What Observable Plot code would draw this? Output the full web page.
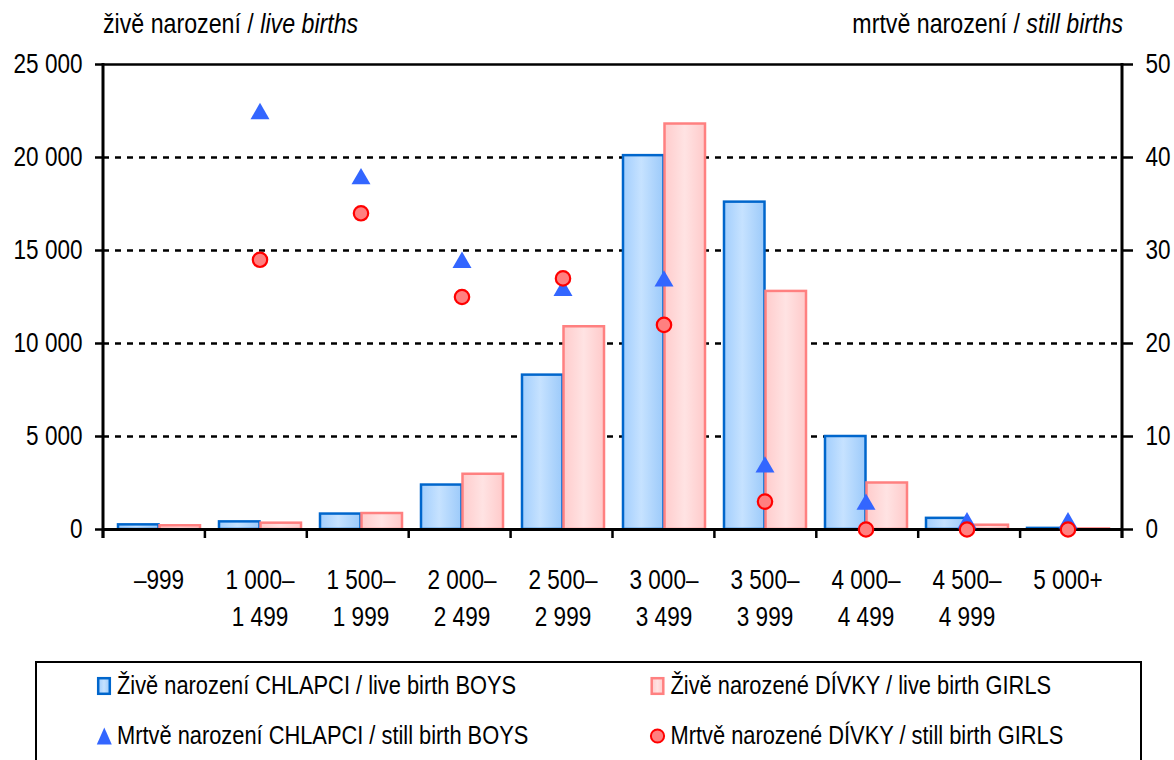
<!DOCTYPE html>
<html><head><meta charset="utf-8">
<script src="https://cdn.jsdelivr.net/npm/d3@7"></script>
<script src="https://cdn.jsdelivr.net/npm/@observablehq/plot@0.6"></script>
<style>
body{margin:0;background:#fff;}
#wrap{position:relative;width:1174px;height:760px;overflow:hidden;background:#fff;}
#chart{position:absolute;left:0;top:0;}
#legend{position:absolute;left:0;top:0;}
</style></head><body>
<div id="wrap"><div id="chart"></div><svg id="legend" width="1174" height="760"></svg></div>
<script>
// ---- data ----
const categories = ["–999","1 000–1 499","1 500–1 999","2 000–2 499","2 500–2 999","3 000–3 499","3 500–3 999","4 000–4 499","4 500–4 999","5 000+"];
const labelLine1 = ["–999","1 000–","1 500–","2 000–","2 500–","3 000–","3 500–","4 000–","4 500–","5 000+"];
const labelLine2 = ["","1 499","1 999","2 499","2 999","3 499","3 999","4 499","4 999",""];
const liveBoys   = [250, 410, 830, 2390, 8300, 20100, 17600, 5000, 600, 60];
const liveGirls  = [200, 340, 860, 2970, 10900, 21800, 12800, 2500, 230, 30];
const stillBoys  = [null, 45, 38, 29, 26, 27, 7, 3, 1, 1];
const stillGirls = [null, 29, 34, 25, 27, 22, 3, 0, 0, 0];
const leftTicks  = [0, 5000, 10000, 15000, 20000, 25000];
const rightTicks = [0, 10, 20, 30, 40, 50];
const gridTicks  = [5000, 10000, 15000, 20000];
const titleLeft  = ["živě narození / ", "live births"];
const titleRight = ["mrtvě narození / ", "still births"];
const legendLabels = ["Živě narození CHLAPCI / live birth BOYS","Živě narozené DÍVKY / live birth GIRLS","Mrtvě narození CHLAPCI / still birth BOYS","Mrtvě narozené DÍVKY / still birth GIRLS"];

// ---- fonts ----
function hasFont(name){
  const c=document.createElement("canvas").getContext("2d");
  const s="20 000 abcdefghijklmnop";
  c.font="40px monospace"; const a=c.measureText(s).width;
  c.font=`40px "${name}", monospace`; const b=c.measureText(s).width;
  return Math.abs(a-b)>0.5;
}
const narrow = hasFont("Liberation Sans Narrow") ? "Liberation Sans Narrow" : (hasFont("Arial Narrow") ? "Arial Narrow" : null);
const FONT = narrow ? `"${narrow}", sans-serif` : `"Liberation Sans", Arial, sans-serif`;
const FS = 27.5;
const SX = narrow ? 1 : 0.82;   // emulate a narrow face when none is installed
const LFONT = `"Liberation Sans", Arial, sans-serif`;

const K = leftTicks[leftTicks.length-1] / rightTicks[rightTicks.length-1];
const fmt = d3.formatLocale({thousands:" ", grouping:[3], decimal:",", currency:["",""]}).format(",");

const data = categories.map((c,i)=>({cat:c, label: labelLine2[i] ? labelLine1[i]+"\n"+labelLine2[i] : labelLine1[i],
  lb:liveBoys[i], lg:liveGirls[i], sb:stillBoys[i], sg:stillGirls[i]}));

const W=1174, H=650, ML=103, MR=52, MT=64, MB=121;
const chart = Plot.plot({
  width:W, height:H, marginLeft:ML, marginRight:MR, marginTop:MT, marginBottom:MB,
  style:{fontFamily:FONT, fontSize:FS+"px", color:"#000", background:"transparent", overflow:"visible"},
  x:{domain:categories, padding:0, axis:null},
  y:{domain:[0,25000], axis:null},
  marks:[
    Plot.ruleY(gridTicks, {stroke:"#000", strokeWidth:2.6, strokeDasharray:"6,6"}),
    Plot.ruleY([leftTicks[leftTicks.length-1]], {stroke:"#000", strokeWidth:2.6}),
    Plot.barY(data, {x:"cat", y:"lb", fill:"url(#gBlue)", stroke:"#0066cc", strokeWidth:2.5, insetLeft:10, insetRight:50.5}),
    Plot.barY(data, {x:"cat", y:"lg", fill:"url(#gPink)", stroke:"#ff8080", strokeWidth:2.5, insetLeft:51.5, insetRight:9}),
    Plot.ruleY([0], {stroke:"#000", strokeWidth:3}),
    Plot.dot(data.filter(d=>d.sb!=null), {x:"cat", y:d=>d.sb*K, symbol:"triangle", r:7.05, fill:"#3366ff", stroke:"none", dy:2.74}),
    Plot.dot(data.filter(d=>d.sg!=null), {x:"cat", y:d=>d.sg*K, r:7.2, fill:"#ff8080", stroke:"#ff0000", strokeWidth:2.2}),
    Plot.axisY(leftTicks, {anchor:"left", tickSize:8, tickPadding:13, tickFormat:fmt, stroke:"#000", strokeWidth:2.5, fontSize:FS, fontFamily:FONT, fill:"#000"}),
    Plot.axisY(rightTicks.map(v=>v*K), {anchor:"right", tickSize:10, tickPadding:13, tickFormat:v=>String(v/K), stroke:"#000", strokeWidth:2.5, fontSize:FS, fontFamily:FONT, fill:"#000"}),
    Plot.text(data, {x:"cat", frameAnchor:"bottom", text:"label", dy:32.7, lineAnchor:"top", lineHeight:1.35, fontSize:FS, fontFamily:FONT, fill:"#000"})
  ]
});
document.getElementById("chart").appendChild(chart);

// gradients
const svg = d3.select(chart);
const defs = svg.insert("defs", ":first-child");
const gb = defs.append("linearGradient").attr("id","gBlue").attr("x1","0").attr("x2","1").attr("y1","0").attr("y2","0");
[["0%","#a2cefd"],["45%","#c6e2ff"],["100%","#9ccafa"]].forEach(([o,c])=>gb.append("stop").attr("offset",o).attr("stop-color",c));
const gp = defs.append("linearGradient").attr("id","gPink").attr("x1","0").attr("x2","1").attr("y1","0").attr("y2","0");
[["0%","#ffcccc"],["50%","#ffe3e3"],["100%","#ffcaca"]].forEach(([o,c])=>gp.append("stop").attr("offset",o).attr("stop-color",c));

// horizontal squeeze of plot texts (about each text's own anchor)
if (SX !== 1) {
  svg.selectAll("text").each(function(){
    const x = +(this.getAttribute("x")||0);
    const t = this.getAttribute("transform")||"";
    this.setAttribute("transform", `${t} translate(${x},0) scale(${SX},1) translate(${-x},0)`);
  });
}

// axis lines and category boundary ticks from the plot's own scales
const xs = chart.scale("x"), ys = chart.scale("y");
const band = d3.scaleBand(xs.domain, xs.range).paddingInner(xs.paddingInner||0).paddingOuter(xs.paddingOuter||0);
const y0 = d3.scaleLinear(ys.domain, ys.range);
const yBase = y0(0), yTop = y0(ys.domain[1]);
const bounds = xs.domain.map(c=>band(c)).concat([band(xs.domain[xs.domain.length-1])+band.bandwidth()]);
const g = svg.append("g").attr("stroke","#000");
g.selectAll("line.b").data(bounds).join("line").attr("x1",d=>d).attr("x2",d=>d).attr("y1",yBase).attr("y2",yBase+9).attr("stroke-width",2.5);
[bounds[0], bounds[bounds.length-1]].forEach(x=>g.append("line").attr("x1",x).attr("x2",x).attr("y1",yTop-1).attr("y2",yBase+9).attr("stroke-width",3));

// titles (mixed upright / italic)
function title(parts, x, anchor){
  const t = svg.append("text").attr("y",33.5).attr("text-anchor",anchor)
    .attr("font-family",FONT).attr("font-size",FS+0.8).attr("fill","#000")
    .attr("transform",`translate(${x},0) scale(${SX},1)`);
  t.append("tspan").text(parts[0]); t.append("tspan").attr("font-style","italic").text(parts[1]);
}
title(titleLeft, bounds[0], "start");
title(titleRight, bounds[bounds.length-1]+1, "end");

// ---- legend ----
const L = d3.select("#legend");
const ld = L.append("defs");
const lb = ld.append("linearGradient").attr("id","lgBlue");
[["0%","#a2cefd"],["50%","#c6e2ff"],["100%","#9ccafa"]].forEach(([o,c])=>lb.append("stop").attr("offset",o).attr("stop-color",c));
const lp = ld.append("linearGradient").attr("id","lgPink");
[["0%","#ffcccc"],["50%","#ffe3e3"],["100%","#ffcaca"]].forEach(([o,c])=>lp.append("stop").attr("offset",o).attr("stop-color",c));
L.append("rect").attr("x",36).attr("y",662).attr("width",1105).attr("height",130).attr("fill","none").attr("stroke","#000").attr("stroke-width",2);
const cols=[97,650.5], rows=[686,736], txo=20;
L.append("rect").attr("x",cols[0]+1.2).attr("y",rows[0]-7.8).attr("width",11.6).attr("height",15.6).attr("fill","url(#lgBlue)").attr("stroke","#0066cc").attr("stroke-width",2.5);
L.append("rect").attr("x",cols[1]+1.2).attr("y",rows[0]-7.8).attr("width",11.6).attr("height",15.6).attr("fill","url(#lgPink)").attr("stroke","#ff8080").attr("stroke-width",2.5);
L.append("path").attr("d",`M${cols[0]+7.3},${rows[1]-8.5}L${cols[0]+14.8},${rows[1]+8.5}L${cols[0]-0.2},${rows[1]+8.5}Z`).attr("fill","#3366ff");
L.append("circle").attr("cx",cols[1]+7).attr("cy",rows[1]).attr("r",6.6).attr("fill","#ff8080").attr("stroke","#ff0000").attr("stroke-width",2);
const pos=[[cols[0],rows[0]],[cols[1],rows[0]],[cols[0],rows[1]],[cols[1],rows[1]]];
legendLabels.forEach((t,i)=>{
  const lx = pos[i][0]+txo;
  L.append("text").attr("x",0).attr("y",pos[i][1]+8.5).attr("transform",`translate(${lx},0) scale(0.84,1)`)
    .attr("font-family",LFONT).attr("font-size",26).attr("fill","#000").text(t);
});
</script>
</body></html>
